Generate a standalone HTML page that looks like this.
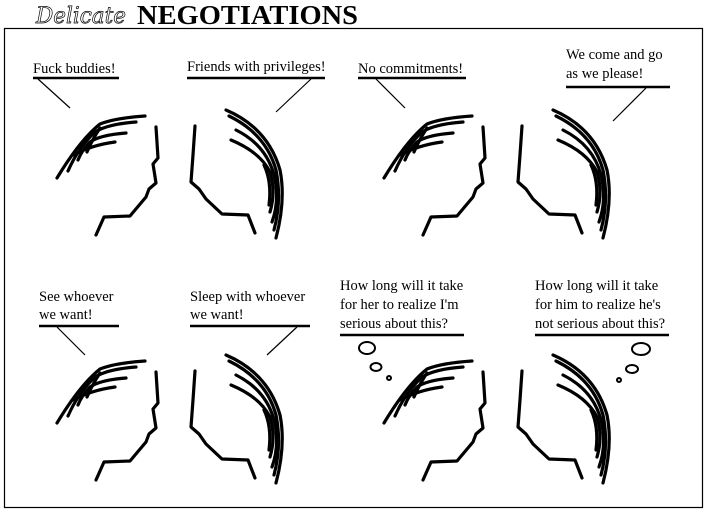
<!DOCTYPE html>
<html><head><meta charset="utf-8"><style>
html,body{margin:0;padding:0;background:#fff;width:707px;height:512px;overflow:hidden}
svg text{font-family:"Liberation Serif",serif;font-size:14.5px;fill:#000}
</style></head><body>
<svg width="707" height="512" viewBox="0 0 707 512" xmlns="http://www.w3.org/2000/svg">
<defs>
<g id="pair" fill="none" stroke="#000" stroke-width="3.2" stroke-linejoin="round" stroke-linecap="round">
  <path d="M145,116 Q115,118 100,124 Q80,140 57,178"/>
  <path d="M136,122 Q108,124 95,132 Q78,148 68,171"/>
  <path d="M126,133 Q100,135 90,142 Q82,150 78,160"/>
  <path d="M115,142 Q92,145 73,155"/>
  <path d="M100,128 Q92,140 87,152"/>
  <path d="M156,127 L158,158 L153,164 L156,183 L149,189 L146,197 L130,216 L104,217 L96,235"/>
  <path d="M195,126 L193,155 L191,182 L199,189 L206,199 L222,214 L248,215 L255,233"/>
  <path d="M226,110 Q268,128 280,170 Q286,200 276,238"/>
  <path d="M229,116 Q266,134 276,170 Q282,200 274,230"/>
  <path d="M236,130 Q266,145 274,175 Q280,200 272,222"/>
  <path d="M231,140 Q260,152 270,172 Q276,192 270,212"/>
  <path d="M264,165 Q272,182 269,205"/>
</g>
</defs>
<text x="36" y="23" style="font-family:'DejaVu Serif',serif;font-style:italic;font-size:22px;fill:none;stroke:#000;stroke-width:0.7" textLength="90" lengthAdjust="spacingAndGlyphs">Delicate</text>
<text x="137" y="24" style="font-family:'Liberation Serif',serif;font-weight:bold;font-size:27px" textLength="221" lengthAdjust="spacingAndGlyphs">NEGOTIATIONS</text>
<rect x="4.5" y="28.5" width="698" height="479" fill="none" stroke="#000" stroke-width="1.2"/>

<use href="#pair"/>
<use href="#pair" transform="translate(327,0)"/>
<use href="#pair" transform="translate(0,245)"/>
<use href="#pair" transform="translate(327,245)"/>

<g stroke="#000" fill="none">
  <line x1="33" y1="78" x2="119" y2="78" stroke-width="2.5"/>
  <line x1="38" y1="79" x2="70" y2="108" stroke-width="1.2"/>
  <line x1="187" y1="78" x2="325" y2="78" stroke-width="2.5"/>
  <line x1="311" y1="79" x2="276" y2="112" stroke-width="1.2"/>
  <line x1="358" y1="78" x2="466" y2="78" stroke-width="2.5"/>
  <line x1="376" y1="79" x2="405" y2="108" stroke-width="1.2"/>
  <line x1="566" y1="87" x2="670" y2="87" stroke-width="2.5"/>
  <line x1="646" y1="88" x2="613" y2="121" stroke-width="1.2"/>
  <line x1="39" y1="326" x2="119" y2="326" stroke-width="2.5"/>
  <line x1="57" y1="327" x2="85" y2="355" stroke-width="1.2"/>
  <line x1="190" y1="326" x2="310" y2="326" stroke-width="2.5"/>
  <line x1="297" y1="327" x2="267" y2="355" stroke-width="1.2"/>
  <line x1="340" y1="335" x2="464" y2="335" stroke-width="2.5"/>
  <line x1="535" y1="335" x2="669" y2="335" stroke-width="2.5"/>
  <g stroke-width="2">
    <ellipse cx="367" cy="348" rx="8" ry="6"/>
    <ellipse cx="376" cy="367" rx="5.5" ry="4"/>
    <circle cx="389" cy="378" r="2"/>
    <ellipse cx="641" cy="349" rx="9" ry="6"/>
    <ellipse cx="632" cy="369" rx="6" ry="4"/>
    <circle cx="619" cy="380" r="2"/>
  </g>
</g>

<text x="33" y="73">Fuck buddies!</text>
<text x="187" y="71">Friends with privileges!</text>
<text x="358" y="73">No commitments!</text>
<text x="566" y="59">We come and go</text>
<text x="566" y="78">as we please!</text>
<text x="39" y="301">See whoever</text>
<text x="39" y="319">we want!</text>
<text x="190" y="301">Sleep with whoever</text>
<text x="190" y="319">we want!</text>
<text x="340" y="290">How long will it take</text>
<text x="340" y="309">for her to realize I'm</text>
<text x="340" y="328">serious about this?</text>
<text x="535" y="290">How long will it take</text>
<text x="535" y="309">for him to realize he's</text>
<text x="535" y="328">not serious about this?</text>
</svg>
</body></html>
